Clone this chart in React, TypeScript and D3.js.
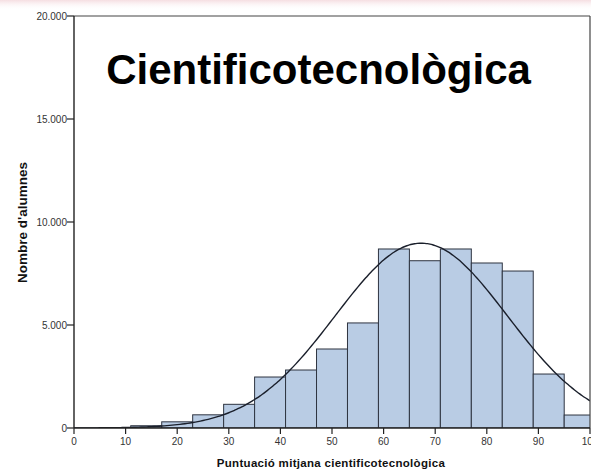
import React from "react";
import * as d3 from "d3";

const binStarts = [11, 17, 23, 29, 35, 41, 47, 53, 59, 65, 71, 77, 83, 89, 95];
const binCounts = [110, 300, 640, 1150, 2475, 2815, 3835, 5100, 8690, 8120, 8690, 8010, 7620, 2620, 630];
const binWidth = 6;
const xTicks = [0, 10, 20, 30, 40, 50, 60, 70, 80, 90, 100];
const yTicks = [0, 5000, 10000, 15000, 20000];
const yTickLabels = ["0", "5.000", "10.000", "15.000", "20.000"];
const curveMean = 67.3;
const curveSd = 16.7;
const curveN = 62600;
const titleText = "Cientificotecnològica";
const xLabel = "Puntuació mitjana cientificotecnològica";
const yLabel = "Nombre d'alumnes";

const W = 591;
const H = 473;
const L = 74, R = 590, T = 16, B = 428;
const FONT = "'Liberation Sans', Arial, sans-serif";

export default function App() {
  const x = d3.scaleLinear().domain([0, 100]).range([L, R]);
  const y = d3.scaleLinear().domain([0, 20000]).range([B, T]);

  const pdf = (v: number) =>
    (curveN * binWidth) / (curveSd * Math.sqrt(2 * Math.PI)) *
    Math.exp(-((v - curveMean) ** 2) / (2 * curveSd * curveSd));
  const pts = d3.range(0, 100.01, 0.5).map((v) => [v, pdf(v)] as [number, number]);
  const line = d3.line<[number, number]>().x((d) => x(d[0])).y((d) => y(d[1])).curve(d3.curveBasis);

  return (
    <svg width={W} height={H} style={{ position: "absolute", left: 0, top: 0, background: "#fff" }}>
      <defs>
        <linearGradient id="pinkV" x1="0" y1="0" x2="0" y2="1">
          <stop offset="0" stopColor="#f3d6da" stopOpacity={0.8} />
          <stop offset="1" stopColor="#ffffff" stopOpacity={0} />
        </linearGradient>
        <clipPath id="plotClip">
          <rect x={L} y={T} width={R - L} height={B - T} />
        </clipPath>
      </defs>
      <rect x={0} y={0} width={W} height={10} fill="url(#pinkV)" />

      <g clipPath="url(#plotClip)">
        {binStarts.map((s, i) => (
          <rect
            key={i}
            x={x(s)}
            y={y(binCounts[i])}
            width={x(s + binWidth) - x(s)}
            height={y(0) - y(binCounts[i])}
            fill="#b9cce4"
            stroke="#2e3440"
            strokeWidth={1}
          />
        ))}
        <path d={line(pts) || ""} fill="none" stroke="#1a1f2b" strokeWidth={1.4} />
      </g>

      {/* frame */}
      <line x1={L} y1={T} x2={R} y2={T} stroke="#444" strokeWidth={1.2} />
      <line x1={R} y1={T} x2={R} y2={B} stroke="#444" strokeWidth={1.2} />
      {/* axes */}
      <line x1={L} y1={T} x2={L} y2={B} stroke="#222" strokeWidth={1.4} />
      <line x1={L} y1={B} x2={R} y2={B} stroke="#222" strokeWidth={1.4} />

      {yTicks.map((t, i) => (
        <g key={t}>
          <line x1={L - 7} x2={L} y1={y(t)} y2={y(t)} stroke="#222" strokeWidth={1.2} />
          <text x={L - 7} y={y(t) + 3.5} textAnchor="end" fontFamily={FONT} fontSize={10} fill="#333">
            {yTickLabels[i]}
          </text>
        </g>
      ))}
      {xTicks.map((t) => (
        <g key={t}>
          <line x1={x(t)} x2={x(t)} y1={B} y2={B + 6} stroke="#222" strokeWidth={1.2} />
          <text x={x(t)} y={B + 17} textAnchor="middle" fontFamily={FONT} fontSize={10} fill="#333">
            {t}
          </text>
        </g>
      ))}

      <text x={318.5} y={84} textAnchor="middle" fontFamily={FONT} fontWeight="bold" fontSize={42} fill="#000">
        {titleText}
      </text>
      <text x={331} y={467} textAnchor="middle" fontFamily={FONT} fontWeight="bold" fontSize={11.5} letterSpacing={0.3} fill="#111">
        {xLabel}
      </text>
      <text
        transform={`translate(27, 222.5) rotate(-90)`}
        textAnchor="middle"
        fontFamily={FONT}
        fontWeight="bold"
        fontSize={13.5}
        fill="#111"
      >
        {yLabel}
      </text>
    </svg>
  );
}
